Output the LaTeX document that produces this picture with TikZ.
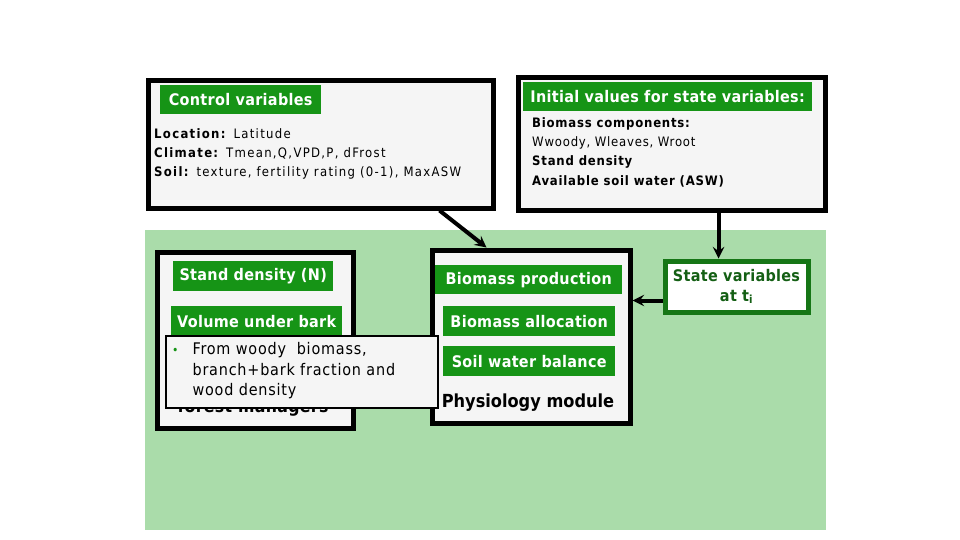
\documentclass[tikz,border=0pt]{standalone}
\usepackage{fontspec}
\setmainfont{DejaVu Sans Condensed}
\newfontfamily\ctrlfont[LetterSpace=10]{DejaVu Sans Condensed}
\newfontfamily\initfont[LetterSpace=6]{DejaVu Sans Condensed}
\newfontfamily\labfont[LetterSpace=2]{DejaVu Sans Condensed}
\newfontfamily\notefont[LetterSpace=5]{DejaVu Sans Condensed}
\usetikzlibrary{arrows}

\definecolor{bggreen}{RGB}{170,220,170}
\definecolor{labgreen}{RGB}{22,148,22}
\definecolor{boxgray}{RGB}{245,245,245}
\definecolor{stateline}{RGB}{22,118,22}
\definecolor{statetext}{RGB}{20,95,20}

\begin{document}
\begin{tikzpicture}[x = 1pt, y = -1pt, % pixel grid, y down
                > = stealth, % arrow head style
                line join = miter
            ]

            \tikzstyle{bigbox}=[draw = black, line width = 5pt, fill = boxgray,
            anchor = north west, inner sep = 0pt]
            \tikzstyle{greenlab}=[fill = labgreen, text = white, anchor = north west,
            inner sep = 0pt, font = \labfont\fontsize{16}{18}\selectfont\bfseries]
            \tikzstyle{bodytext}=[anchor = west, align = left, inner sep = 0pt]
            \tikzstyle{flow}=[->, line width = 4pt, black]

            \useasboundingbox (0,0) rectangle (960,540);
            \fill[bggreen] (145,230) rectangle (826,530);

            % top boxes
            \node[bigbox, minimum width = 345pt, minimum height = 127pt] (ctrl) at (145.5,78.5) {};
            \node[bigbox, minimum width = 307pt, minimum height = 132pt] (init) at (515.5,75.5) {};

            \node[greenlab, minimum width = 161pt, minimum height = 29pt] (ctrllab) at (160,85) {Control variables};
            \node[bodytext, font = \ctrlfont\fontsize{13}{19}\selectfont] (ctrltext) at (154,154)
            {\textbf{Location:} Latitude\\ \textbf{Climate:} Tmean,Q,VPD,P, dFrost\\
             \textbf{Soil:} texture, fertility rating (0-1), MaxASW};

            \node[greenlab, minimum width = 289pt, minimum height = 29pt] (initlab) at (523,82) {Initial values for state variables:};
            \node[bodytext, font = \initfont\fontsize{13}{19.3}\selectfont] (inittext) at (532,152)
            {\textbf{Biomass components:}\\ Wwoody, Wleaves, Wroot\\
             \textbf{Stand density}\\ \textbf{Available soil water (ASW)}};

            % lower boxes
            \node[bigbox, minimum width = 196pt, minimum height = 176pt] (mgr) at (154.5,249.5) {};
            \node[bigbox, minimum width = 198pt, minimum height = 173pt] (phys) at (429.5,247.5) {};
            \node[draw = stateline, line width = 5pt, fill = white, anchor = north west,
            minimum width = 143pt, minimum height = 51pt, inner sep = 0pt, align = center,
            text = statetext, font = \labfont\fontsize{16}{20}\selectfont\bfseries] (state) at (662.5,258.5)
            {State variables\\ at t\textsubscript{i}};

            \node[greenlab, minimum width = 160pt, minimum height = 30pt] (dens) at (173,261) {Stand density (N)};
            \node[greenlab, minimum width = 171pt, minimum height = 30pt] (vol) at (171,306) {Volume under bark};
            \node[font = \labfont\fontsize{17.5}{20}\selectfont\bfseries] (fm) at (253,408) {forest managers};

            \node[greenlab, minimum width = 187pt, minimum height = 29pt] (prod) at (435,265) {Biomass production};
            \node[greenlab, minimum width = 172pt, minimum height = 30pt] (alloc) at (443,306) {Biomass allocation};
            \node[greenlab, minimum width = 172pt, minimum height = 30pt] (soil) at (443,346) {Soil water balance};
            \node[font = \fontsize{18}{20}\selectfont\bfseries] (physlab) at (528,403) {Physiology module};

            % callout over the managers box
            \node[draw = black, line width = 2pt, fill = boxgray, anchor = north west,
            minimum width = 272pt, minimum height = 72pt, inner sep = 0pt] (callout) at (165,335) {};
            \node[anchor = north west, inner sep = 0pt, font = \notefont\fontsize{16}{21}\selectfont] (bullet) at (172,340)
            {\begin{tabular}{@{}l@{\hspace{14pt}}l@{}}
             \textcolor{labgreen}{\fontsize{12}{12}\selectfont\textbullet} & From woody\ \ biomass,\\[-0.5pt]
             & branch+bark fraction and\\[-0.5pt] & wood density\end{tabular}};

            % connectors
            \coordinate (initout) at ([xshift = 47pt]init.south);
            \coordinate (stateout) at ([yshift = -14pt]state.west);
            \draw[flow] ([xshift = 119pt]ctrl.south) -- ([xshift = -44.5pt]phys.north);
            \draw[flow] (initout) -- (initout |- state.north);
            \draw[flow] (stateout) -- (phys.east |- stateout);
            \end{tikzpicture}
\end{document}
